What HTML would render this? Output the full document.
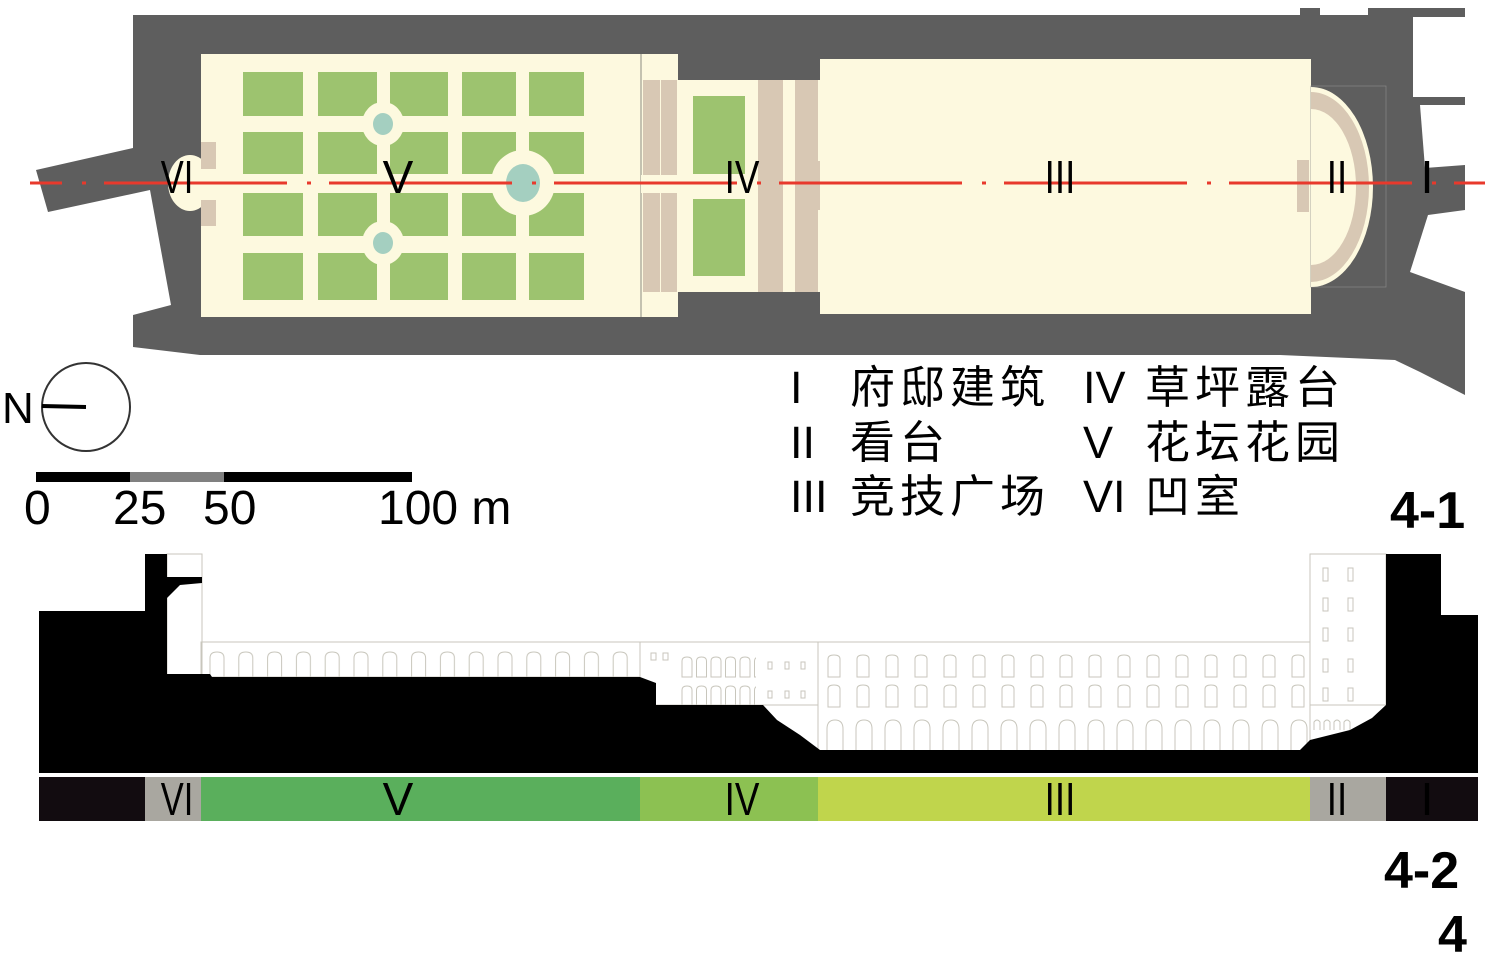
<!DOCTYPE html>
<html><head><meta charset="utf-8"><style>
html,body{margin:0;padding:0;background:#fff;}
svg{display:block}
text{font-family:"Liberation Sans","Noto Sans CJK SC",sans-serif;}
</style></head><body>
<svg width="1488" height="969" viewBox="0 0 1488 969" xmlns="http://www.w3.org/2000/svg">
<defs>
<pattern id="archV" x="208" y="0" width="28.8" height="969" patternUnits="userSpaceOnUse">
<path d="M2 677 V658 Q2 652 9 652 Q16 652 16 658 V677" fill="none" stroke="#c8c6bc" stroke-width="1"/>
</pattern>
<pattern id="archIII" x="826" y="0" width="29" height="969" patternUnits="userSpaceOnUse">
<path d="M2 677 V659 Q2 655 8 655 Q14 655 14 659 V677 Z" fill="none" stroke="#c8c6bc" stroke-width="1"/>
<path d="M2 707 V689 Q2 685 8 685 Q14 685 14 689 V707 Z" fill="none" stroke="#c8c6bc" stroke-width="1"/>
<path d="M1 753 V729 Q1 720 9 720 Q17 720 17 729 V753" fill="none" stroke="#c8c6bc" stroke-width="1"/>
</pattern>
<pattern id="archIV" x="681" y="0" width="14.5" height="969" patternUnits="userSpaceOnUse">
<path d="M1 677 V661 Q1 657 6 657 Q11 657 11 661 V677 Z" fill="none" stroke="#c8c6bc" stroke-width="1"/>
<path d="M1 705 V690 Q1 686 6 686 Q11 686 11 690 V705" fill="none" stroke="#c8c6bc" stroke-width="1"/>
</pattern>
</defs>

<!-- PLAN dark mass -->
<polygon fill="#5e5e5e" points="133,15 1300,15 1300,8 1320,8 1320,15 1368,15 1368,8 1465,8 1465,395 1420,372 1395,360 1280,355 200,355 133,347 133,315 171,305 150,190 48,212 36,170 133,148"/>
<polygon fill="#fff" points="1413,17 1465,17 1465,97 1413,97"/>
<polygon fill="#fff" points="1420,105 1465,105 1465,165 1425,168"/>
<polygon fill="#fff" points="1428,215 1465,210 1465,292 1410,272"/>

<!-- V garden -->
<rect x="201" y="54" width="440" height="263" fill="#fdf9df"/>
<g fill="#9dc36f">
<rect x="243" y="72" width="60" height="44"/><rect x="318" y="72" width="59" height="44"/><rect x="390" y="72" width="58" height="44"/><rect x="462" y="72" width="54" height="44"/><rect x="529" y="72" width="55" height="44"/>
<rect x="243" y="132" width="60" height="42"/><rect x="318" y="132" width="59" height="42"/><rect x="390" y="132" width="58" height="42"/><rect x="462" y="132" width="54" height="42"/><rect x="529" y="132" width="55" height="42"/>
<rect x="243" y="193" width="60" height="43"/><rect x="318" y="193" width="59" height="43"/><rect x="390" y="193" width="58" height="43"/><rect x="462" y="193" width="54" height="43"/><rect x="529" y="193" width="55" height="43"/>
<rect x="243" y="253" width="60" height="47"/><rect x="318" y="253" width="59" height="47"/><rect x="390" y="253" width="58" height="47"/><rect x="462" y="253" width="54" height="47"/><rect x="529" y="253" width="55" height="47"/>
</g>
<g fill="#fdf9df"><ellipse cx="383" cy="124" rx="21" ry="22"/><ellipse cx="383" cy="243" rx="21" ry="22"/><ellipse cx="523" cy="183" rx="32" ry="33"/></g>
<g fill="#a4cfc0"><ellipse cx="383" cy="124" rx="10" ry="11"/><ellipse cx="383" cy="243" rx="10" ry="11"/><ellipse cx="523" cy="183" rx="17" ry="19"/></g>
<ellipse cx="190" cy="183" rx="22" ry="28" fill="#fdf9df"/>
<rect x="201" y="142" width="15" height="27" fill="#d8c8b4"/><rect x="201" y="200" width="15" height="26" fill="#d8c8b4"/>

<!-- IV -->
<rect x="641" y="54" width="37" height="263" fill="#fdf9df"/>
<line x1="641" y1="54" x2="641" y2="317" stroke="#8a8a80" stroke-width="1"/>
<rect x="643" y="80" width="17" height="212" fill="#d8c8b4"/><rect x="661" y="80" width="16" height="212" fill="#d8c8b4"/>
<rect x="641" y="175" width="37" height="18" fill="#fdf9df"/>
<rect x="678" y="80" width="142" height="212" fill="#fdf9df"/>
<rect x="693" y="96" width="52" height="78" fill="#9dc36f"/><rect x="693" y="199" width="52" height="77" fill="#9dc36f"/>
<rect x="758" y="80" width="25" height="212" fill="#d8c8b4"/><rect x="795" y="80" width="23" height="212" fill="#d8c8b4"/>
<rect x="818" y="161" width="17" height="49" fill="#d8c8b4"/><rect x="820" y="173" width="9" height="22" fill="#fdf9df"/>

<!-- III -->
<rect x="820" y="59" width="491" height="255" fill="#fdf9df"/>
<!-- II -->
<rect x="1311" y="86" width="75" height="201" fill="none" stroke="#888" stroke-width="0.7"/>
<path d="M1311 87 A62 100 0 0 1 1311 287 Z" fill="#fdf9df"/>
<path d="M1311 92 A58 95 0 0 1 1311 282 L1311 265 A45 78 0 0 0 1311 109 Z" fill="#d8c8b4"/>
<rect x="1297" y="160" width="12" height="52" fill="#d8c8b4"/>

<!-- red axis -->
<line x1="-121" y1="183" x2="1485" y2="183" stroke="#e8392c" stroke-width="3" stroke-dasharray="183,20,4,18"/>
<rect x="0" y="180" width="30" height="6" fill="#fff"/>
<g font-size="46" fill="#000" text-anchor="middle">
<text x="177" y="193" transform="translate(177 0) scale(0.75 1) translate(-177 0)">VI</text>
<text x="398" y="193">V</text>
<text x="742" y="193" transform="translate(742 0) scale(0.8 1) translate(-742 0)">IV</text>
<text x="1060" y="193" transform="translate(1060 0) scale(0.8 1) translate(-1060 0)">III</text>
<text x="1337" y="193" transform="translate(1337 0) scale(0.8 1) translate(-1337 0)">II</text>
<text x="1427" y="193">I</text>
</g>

<!-- compass -->
<circle cx="86" cy="407" r="44" fill="none" stroke="#333" stroke-width="2"/>
<line x1="42" y1="406" x2="86" y2="407" stroke="#000" stroke-width="4"/>
<text x="2" y="423" font-size="44">N</text>
<!-- scale -->
<rect x="36" y="472" width="94" height="10" fill="#000"/><rect x="130" y="472" width="94" height="10" fill="#808080"/><rect x="224" y="472" width="188" height="10" fill="#000"/>
<g font-size="48"><text x="24" y="524">0</text><text x="113" y="524">25</text><text x="203" y="524">50</text><text x="378" y="524">100 m</text></g>

<!-- legend -->
<g font-size="45" fill="#000">
<text x="790" y="403">I</text><text x="850" y="403" textLength="195" lengthAdjust="spacing">府邸建筑</text>
<text x="1083" y="403">IV</text><text x="1145" y="403" textLength="195" lengthAdjust="spacing">草坪露台</text>
<text x="790" y="458">II</text><text x="850" y="458" textLength="95" lengthAdjust="spacing">看台</text>
<text x="1083" y="458">V</text><text x="1145" y="458" textLength="195" lengthAdjust="spacing">花坛花园</text>
<text x="790" y="512">III</text><text x="850" y="512" textLength="195" lengthAdjust="spacing">竞技广场</text>
<text x="1083" y="512">VI</text><text x="1145" y="512" textLength="95" lengthAdjust="spacing">凹室</text>
</g>
<g font-size="52" font-weight="bold" fill="#000">
<text x="1390" y="528">4-1</text>
<text x="1384" y="888">4-2</text>
<text x="1438" y="952">4</text>
</g>

<!-- SECTION outlines -->
<g fill="none" stroke="#c8c6bc" stroke-width="1">
<rect x="167" y="554" width="35" height="123"/>
<rect x="201" y="642" width="439" height="35"/>
<rect x="640" y="642" width="178" height="63"/>
<rect x="818" y="642" width="492" height="111"/>
<rect x="1310" y="554" width="76" height="196"/>
<line x1="1310" y1="705" x2="1386" y2="705"/>
</g>
<rect x="201" y="642" width="439" height="35" fill="url(#archV)"/>
<rect x="681" y="642" width="75" height="63" fill="url(#archIV)"/>
<rect x="818" y="642" width="492" height="111" fill="url(#archIII)"/>
<g fill="none" stroke="#c8c6bc" stroke-width="1">
<rect x="651" y="653" width="5" height="7"/><rect x="663" y="653" width="5" height="7"/>
<rect x="768" y="662" width="4" height="7"/><rect x="785" y="662" width="4" height="7"/><rect x="801" y="662" width="4" height="7"/>
<rect x="768" y="691" width="4" height="7"/><rect x="785" y="691" width="4" height="7"/><rect x="801" y="691" width="4" height="7"/>
<rect x="1323" y="568" width="5" height="13"/><rect x="1348" y="568" width="5" height="13"/>
<rect x="1323" y="598" width="5" height="13"/><rect x="1348" y="598" width="5" height="13"/>
<rect x="1323" y="628" width="5" height="13"/><rect x="1348" y="628" width="5" height="13"/>
<rect x="1323" y="659" width="5" height="13"/><rect x="1348" y="659" width="5" height="13"/>
<rect x="1323" y="688" width="5" height="13"/><rect x="1348" y="688" width="5" height="13"/>
<path d="M1314 730 v-8 q3-4 6 0 v8 M1324 730 v-8 q3-4 6 0 v8 M1334 730 v-8 q3-4 6 0 v8 M1344 730 v-8 q3-4 6 0 v8"/>
</g>
<polygon fill="#000" points="39,611 145,611 145,554 167,554 167,577 202,577 202,583 180,585 167,598 167,674 210,674 212,677 640,677 656,683 656,705 763,705 777,720 800,735 820,750 1300,750 1310,740 1350,730 1372,718 1386,705 1386,554 1441,554 1441,615 1478,615 1478,773 39,773"/>

<!-- band -->
<rect x="39" y="777" width="106" height="44" fill="#120c10"/>
<rect x="145" y="777" width="56" height="44" fill="#a9a7a0"/>
<rect x="201" y="777" width="439" height="44" fill="#5aaf5c"/>
<rect x="640" y="777" width="178" height="44" fill="#8cc152"/>
<rect x="818" y="777" width="492" height="44" fill="#c0d54c"/>
<rect x="1310" y="777" width="76" height="44" fill="#a9a7a0"/>
<rect x="1386" y="777" width="92" height="44" fill="#120c10"/>
<g font-size="46" fill="#000" text-anchor="middle">
<text x="177" y="815" transform="translate(177 0) scale(0.75 1) translate(-177 0)">VI</text>
<text x="398" y="815">V</text>
<text x="742" y="815" transform="translate(742 0) scale(0.8 1) translate(-742 0)">IV</text>
<text x="1060" y="815" transform="translate(1060 0) scale(0.8 1) translate(-1060 0)">III</text>
<text x="1337" y="815" transform="translate(1337 0) scale(0.8 1) translate(-1337 0)">II</text>
<text x="1427" y="815">I</text>
</g>
</svg>
</body></html>
